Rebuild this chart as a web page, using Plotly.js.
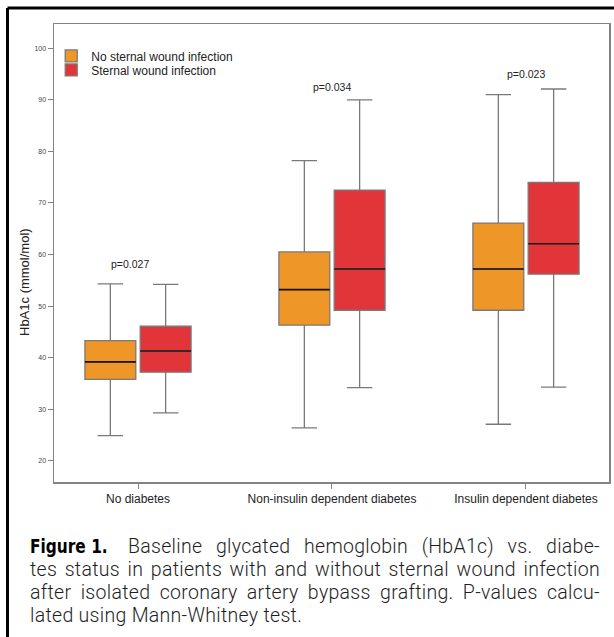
<!DOCTYPE html>
<html>
<head>
<meta charset="utf-8">
<script src="https://cdn.plot.ly/plotly-3.0.1.min.js"></script>
<style>
html,body{margin:0;padding:0;background:#fff;}
#wrap{position:relative;width:614px;height:637px;overflow:hidden;}
#chart{position:absolute;left:0;top:0;width:614px;height:637px;}
#caption{position:absolute;left:30px;top:535px;width:570px;
  font-family:Roboto,'Liberation Sans',Arial,sans-serif;font-weight:300;
  font-size:19.5px;line-height:23px;color:#1e1e1e;letter-spacing:0.3px;}
#caption .ln{white-space:nowrap;text-align:justify;text-align-last:justify;}
#caption .ln.last{text-align:left;text-align-last:left;}
#caption .fig{display:inline-block;width:98px;white-space:nowrap;letter-spacing:0;}
#caption .fig span{display:inline-block;transform:scaleX(0.9);transform-origin:0 50%;
  font-family:'DejaVu Sans Condensed','DejaVu Sans',sans-serif;font-weight:bold;color:#000;font-size:19px;}
</style>
</head>
<body>
<div id="wrap">
<div id="chart"></div>
<div id="caption"></div>
</div>
<script>
// ---- data ----
var categories = ['No diabetes', 'Non-insulin dependent diabetes', 'Insulin dependent diabetes'];
var seriesNames = ['No sternal wound infection', 'Sternal wound infection'];

var noSWI_lower  = [24.9, 26.4, 27.1];
var noSWI_q1     = [35.8, 46.3, 49.2];
var noSWI_median = [39.2, 53.2, 57.2];
var noSWI_q3     = [43.3, 60.5, 66.1];
var noSWI_upper  = [54.3, 78.2, 91.0];

var SWI_lower  = [29.3, 34.2, 34.3];
var SWI_q1     = [37.2, 49.2, 56.2];
var SWI_median = [41.3, 57.2, 62.1];
var SWI_q3     = [46.1, 72.5, 74.0];
var SWI_upper  = [54.2, 90.0, 92.1];

var pLabels = ['p=0.027', 'p=0.034', 'p=0.023'];
var pLabelY = [58.2, 92.5, 95.1];

var captionLabel = 'Figure 1.';
var captionLines = [
  'Baseline glycated hemoglobin (HbA1c) vs. diabe-',
  'tes status in patients with and without sternal wound infection',
  'after isolated coronary artery bypass grafting. P-values calcu-',
  'lated using Mann-Whitney test.'
];

// ---- caption (HTML text below the chart) ----
(function () {
  var cap = document.getElementById('caption');
  captionLines.forEach(function (t, i) {
    var d = document.createElement('div');
    d.className = 'ln' + (i === captionLines.length - 1 ? ' last' : '');
    if (i === 0) {
      var f = document.createElement('span');
      f.className = 'fig';
      var s = document.createElement('span');
      s.textContent = captionLabel;
      f.appendChild(s);
      d.appendChild(f);
    }
    d.appendChild(document.createTextNode(t));
    cap.appendChild(d);
  });
})();

// ---- traces ----
var orange = '#EE9628';
var red = '#E1353A';
var boxLine = '#7c7878';

function boxTrace(name, color, group, legendId, lo, q1, med, q3, hi) {
  return {
    type: 'box', name: name, x: categories,
    lowerfence: lo, q1: q1, median: med, q3: q3, upperfence: hi,
    fillcolor: color, line: {color: boxLine, width: 1.3},
    whiskerwidth: 0.5, offsetgroup: group, alignmentgroup: 'all',
    legend: legendId, showlegend: true, hoverinfo: 'skip'
  };
}
function medianTrace(group, med) {
  return {
    type: 'box', x: categories,
    lowerfence: med, q1: med, median: med, q3: med, upperfence: med,
    fillcolor: 'rgba(0,0,0,0)', line: {color: '#1a1212', width: 1.6},
    whiskerwidth: 0, offsetgroup: group, alignmentgroup: 'all',
    showlegend: false, hoverinfo: 'skip'
  };
}

var data = [
  boxTrace(seriesNames[0], orange, 'a', 'legend', noSWI_lower, noSWI_q1, noSWI_median, noSWI_q3, noSWI_upper),
  boxTrace(seriesNames[1], red, 'b', 'legend2', SWI_lower, SWI_q1, SWI_median, SWI_q3, SWI_upper),
  medianTrace('a', noSWI_median),
  medianTrace('b', SWI_median)
];

// ---- annotations ----
var annotations = [];
pLabels.forEach(function (t, i) {
  annotations.push({
    x: categories[i], y: pLabelY[i], xref: 'x', yref: 'y', text: t,
    showarrow: false, xshift: i === 0 ? -8 : 0,
    font: {family: 'Liberation Sans, Arial, sans-serif', size: 10.5, color: '#222'}
  });
});
annotations.push({
  xref: 'paper', yref: 'paper', x: -0.052, y: 0.437, text: 'HbA1c (mmol/mol)',
  textangle: -90, showarrow: false, xanchor: 'center', yanchor: 'middle',
  font: {family: 'Liberation Sans, Arial, sans-serif', size: 13, color: '#222'}
});

var legendFont = {family: 'Liberation Sans, Arial, sans-serif', size: 12, color: '#222'};
var layout = {
  width: 614, height: 637,
  margin: {l: 54, r: 5, t: 24, b: 155, pad: 0},
  paper_bgcolor: 'rgba(0,0,0,0)', plot_bgcolor: '#fff',
  boxmode: 'group', boxgap: 0.43, boxgroupgap: 0.08,
  font: {family: 'Liberation Sans, Arial, sans-serif', color: '#222'},
  xaxis: {
    type: 'category', range: [-0.433, 2.428],
    showline: true, mirror: true, linecolor: '#858282', linewidth: 1.5,
    ticks: 'outside', ticklen: 5, tickcolor: '#858282', tickwidth: 1,
    showgrid: false, zeroline: false,
    tickfont: {size: 12, color: '#222'}
  },
  yaxis: {
    range: [15.9, 104.7], tick0: 0, dtick: 10,
    showline: true, mirror: true, linecolor: '#858282', linewidth: 1.5,
    ticks: 'outside', ticklen: 5, tickcolor: '#858282', tickwidth: 1,
    showgrid: false, zeroline: false,
    tickfont: {size: 7, color: '#444'}
  },
  showlegend: true,
  legend: {
    x: -0.005, y: 0.962, xanchor: 'left', yanchor: 'top',
    bgcolor: 'rgba(0,0,0,0)', borderwidth: 0, font: legendFont, itemclick: false
  },
  legend2: {
    x: -0.005, y: 0.962 - 14 / 458, xanchor: 'left', yanchor: 'top',
    bgcolor: 'rgba(0,0,0,0)', borderwidth: 0, font: legendFont, itemclick: false
  },
  annotations: annotations,
  shapes: [
    {type: 'line', xref: 'paper', yref: 'paper', x0: -0.0838, x1: 1.2, y0: 1.0349, y1: 1.0349,
     line: {color: '#000', width: 3}},
    {type: 'line', xref: 'paper', yref: 'paper', x0: -0.0838, x1: -0.0838, y0: 1.0349, y1: -0.5,
     line: {color: '#000', width: 3}}
  ]
};

Plotly.newPlot('chart', data, layout, {displayModeBar: false, staticPlot: true});
</script>
</body>
</html>
